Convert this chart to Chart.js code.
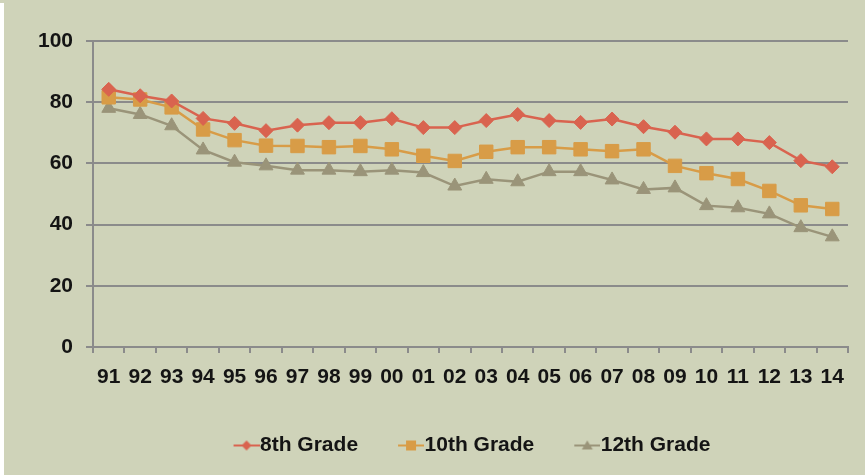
<!DOCTYPE html>
<html>
<head>
<meta charset="utf-8">
<script src="https://cdn.jsdelivr.net/npm/chart.js@4.4.0/dist/chart.umd.min.js"></script>
<style>
  html, body { margin: 0; padding: 0; background: #cfd3b9; }
  #marco { position: relative; width: 865px; height: 475px; background: #cfd3b9; }
  #franja { position: absolute; left: 0; top: 3px; width: 4px; height: 472px; background: #fff; }
  #grafico { position: absolute; left: 0; top: 0; }
</style>
</head>
<body>
<div id="marco">
  <div id="franja"></div>
  <canvas id="grafico" width="865" height="475"></canvas>
</div>
<script>
const anios    = ['91','92','93','94','95','96','97','98','99','00','01','02','03','04','05','06','07','08','09','10','11','12','13','14'];
const grado8   = [84.2, 82.1, 80.4, 74.7, 73.1, 70.7, 72.5, 73.3, 73.3, 74.6, 71.7, 71.7, 74.0, 76.0, 74.0, 73.4, 74.5, 72.0, 70.2, 68.0, 68.0, 66.8, 60.9, 58.9];
const grado10  = [81.6, 80.9, 78.3, 71.1, 67.6, 65.8, 65.7, 65.3, 65.7, 64.6, 62.5, 60.8, 63.8, 65.3, 65.3, 64.6, 64.0, 64.6, 59.2, 56.8, 54.9, 51.0, 46.3, 45.1];
const grado12  = [78.0, 76.0, 72.3, 64.4, 60.4, 59.2, 57.8, 57.8, 57.3, 57.8, 57.0, 52.6, 54.8, 54.0, 57.3, 57.3, 54.6, 51.5, 52.0, 46.2, 45.5, 43.5, 39.0, 36.0];
const ticksY   = [0, 20, 40, 60, 80, 100];

const ROJO    = '#d9634f';
const NARANJA = '#d89c47';
const GRIS    = '#9a9479';
const TEXTO   = '#141414';
const REJILLA = '#8b8b8b';

// icono de leyenda: la mitad izquierda va vacia, la linea con el marcador en la derecha
function iconoLeyenda(color, forma) {
  const c = document.createElement('canvas');
  c.width = 46; c.height = 14;
  const g = c.getContext('2d');
  g.strokeStyle = color; g.fillStyle = color; g.lineWidth = 2;
  g.beginPath(); g.moveTo(20, 7); g.lineTo(46, 7); g.stroke();
  g.beginPath();
  if (forma === 'rombo') {
    g.moveTo(33, 2); g.lineTo(38, 7); g.lineTo(33, 12); g.lineTo(28, 7);
  } else if (forma === 'cuadro') {
    g.rect(28, 2, 10, 10);
  } else {
    g.moveTo(33, 2); g.lineTo(38.5, 11); g.lineTo(27.5, 11);
  }
  g.closePath(); g.fill();
  return c;
}

const serie = (label, data, color, forma, radio, icono) => ({
  label, data,
  borderColor: color, backgroundColor: color,
  borderWidth: 2.5, tension: 0,
  pointStyle: forma, pointRadius: radio, pointHoverRadius: radio,
  pointBackgroundColor: color, pointBorderColor: color, pointBorderWidth: 1,
  icono
});

// la leyenda del original esta centrada sobre el area del grafico, no sobre el lienzo
const moverLeyenda = {
  id: 'moverLeyenda',
  afterLayout(chart) {
    chart.legend.left += 43;
    chart.legend.right += 43;
  }
};

new Chart(document.getElementById('grafico'), {
  type: 'line',
  data: {
    labels: anios,
    datasets: [
      serie('8th Grade',  grado8,  ROJO,    'rectRot',  7,   iconoLeyenda(ROJO, 'rombo')),
      serie('10th Grade', grado10, NARANJA, 'rect',     9.5, iconoLeyenda(NARANJA, 'cuadro')),
      serie('12th Grade', grado12, GRIS,    'triangle', 8,   iconoLeyenda(GRIS, 'triangulo'))
    ]
  },
  options: {
    responsive: false, animation: false,
    layout: { padding: { top: 41, right: 17, bottom: 9, left: 0 } },
    scales: {
      x: {
        offset: true,
        grid: { offset: true, drawOnChartArea: false, drawTicks: true, tickLength: 6, color: REJILLA, lineWidth: 2 },
        border: { display: true, color: REJILLA, width: 2 },
        ticks: { color: TEXTO, font: { family: "'Liberation Sans', sans-serif", size: 21, weight: 'bold' }, padding: 12, maxRotation: 0, autoSkip: false },
        afterFit: s => { s.height = 58; }
      },
      y: {
        min: 0, max: 100,
        afterBuildTicks: s => { s.ticks = ticksY.map(v => ({ value: v })); },
        grid: { color: REJILLA, lineWidth: 2, drawTicks: true, tickLength: 7 },
        border: { display: true, color: REJILLA, width: 2 },
        ticks: { color: TEXTO, font: { family: "'Liberation Sans', sans-serif", size: 21, weight: 'bold' }, padding: 13 },
        afterFit: s => { s.width = 93; }
      }
    },
    plugins: {
      legend: {
        position: 'bottom',
        labels: {
          usePointStyle: true, pointStyleWidth: 26, padding: 30,
          color: TEXTO, font: { family: "'Liberation Sans', sans-serif", size: 21, weight: 'bold' },
          generateLabels: chart => chart.data.datasets.map((d, i) => ({
            text: d.label, pointStyle: d.icono, fillStyle: d.borderColor,
            strokeStyle: d.borderColor, lineWidth: 0, datasetIndex: i, hidden: false, fontColor: TEXTO
          }))
        }
      },
      tooltip: { enabled: false }
    }
  },
  plugins: [moverLeyenda]
});
</script>
</body>
</html>
